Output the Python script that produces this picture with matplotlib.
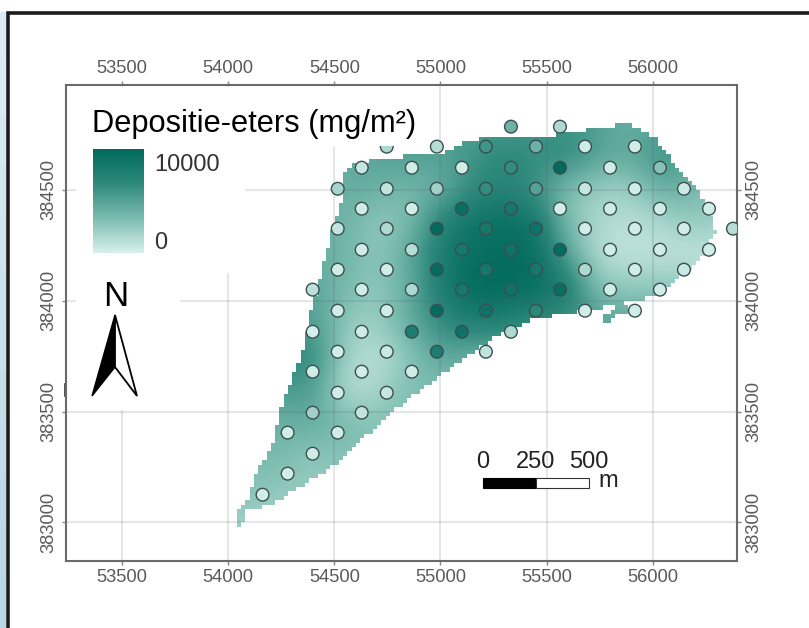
import numpy as np
import matplotlib
matplotlib.use('Agg')
import matplotlib.pyplot as plt
from matplotlib.colors import LinearSegmentedColormap
from matplotlib.patches import Polygon, Rectangle
from matplotlib.path import Path

plt.rcParams['font.family'] = ['Liberation Sans', 'DejaVu Sans']

# sampling points, rows from north to south
station_x = [55332, 55563,
             54747, 54983, 55214, 55450, 55681, 55916,
             54629, 54865, 55101, 55332, 55563, 55799, 56034,
             54516, 54747, 54983, 55214, 55450, 55681, 55916, 56147,
             54629, 54865, 55101, 55332, 55563, 55799, 56034, 56265,
             54516, 54747, 54983, 55214, 55450, 55681, 55916, 56147, 56378,
             54629, 54865, 55101, 55332, 55563, 55799, 56034, 56265,
             54516, 54747, 54983, 55214, 55450, 55681, 55916, 56147,
             54398, 54629, 54865, 55101, 55332, 55563, 55799, 56034,
             54516, 54747, 54983, 55214, 55450, 55681, 55916,
             54398, 54629, 54865, 55101, 55332,
             54516, 54747, 54983, 55214,
             54398, 54629, 54865,
             54516, 54747,
             54398, 54629,
             54280, 54516,
             54398,
             54280,
             54162]
station_y = [384785] * 2 + [384695] * 6 + [384600] * 7 + [384505] * 8 + [384415] * 8 \
    + [384325] * 9 + [384230] * 8 + [384140] * 8 + [384050] * 8 + [383955] * 7 \
    + [383860] * 5 + [383770] * 4 + [383680] * 3 + [383585] * 2 + [383495] * 2 \
    + [383405] * 2 + [383310] + [383220] + [383125]
station_v = [4000, 1500,
             1500, 1200, 6000, 4000, 300, 300,
             600, 200, 200, 6500, 10000, 300, 3000,
             1800, 800, 2000, 6500, 5000, 600, 300, 400,
             300, 200, 9500, 8500, 200, 300, 300, 200,
             800, 1500, 10000, 8500, 9000, 200, 200, 200, 1200,
             300, 1200, 8500, 9000, 9800, 300, 200, 200,
             300, 200, 9800, 8500, 8500, 1500, 200, 500,
             1000, 300, 1500, 8500, 9000, 9500, 300, 300,
             300, 300, 9800, 9000, 7000, 200, 300,
             100, 300, 8000, 9000, 1500,
             200, 500, 8000, 800,
             300, 200, 200,
             300, 600,
             2000, 800,
             200, 300,
             300,
             200,
             200]

# deposition surface read on a 150 m grid
field = [
    [3000, 3000, 3000, 4000, 4500, 5000, 5000, 5000, 5500, 5500, 6000, 5000, 4000, 5000, 5000, 5000],
    [3000, 3000, 3000, 4500, 5000, 5500, 5000, 6000, 7000, 6500, 7000, 5000, 4500, 6500, 4500, 3000],
    [3000, 3000, 3500, 4500, 4000, 3500, 4000, 6500, 7500, 6000, 3000, 2000, 2000, 4500, 3500, 3000],
    [3000, 3500, 4000, 4000, 2500, 3000, 7500, 9000, 9500, 9000, 3000, 1500, 1000, 1500, 2500, 2000],
    [3500, 4000, 4000, 4000, 2500, 4500, 8000, 9500, 9500, 9800, 5000, 1000, 800, 800, 700, 500],
    [4000, 4500, 5000, 3500, 2500, 4000, 8000, 10000, 10000, 9500, 8500, 3000, 2500, 3000, 2500, 1500],
    [5000, 5000, 5500, 2500, 2000, 4500, 6500, 8000, 7500, 6500, 6000, 5000, 5000, 4000, 3000, 2000],
    [6000, 7000, 7000, 2000, 800, 2500, 5000, 4000, 4000, 4000, 4000, 4000, 4000, 3000, 3000, 2000],
    [5000, 5500, 5500, 1000, 1500, 3500, 3000, 3000, 3000, 3000, 3000, 3000, 3000, 3000, 3000, 2000],
    [4000, 4000, 4500, 3500, 3000, 3000, 3000, 3000, 3000, 3000, 3000, 3000, 3000, 3000, 3000, 2000],
    [3500, 3500, 2500, 3000, 3000, 3000, 3000, 3000, 3000, 3000, 3000, 3000, 3000, 3000, 3000, 2000],
    [3000, 2500, 2500, 2500, 2500, 2500, 2500, 2500, 2500, 2500, 2500, 2500, 2500, 2500, 2500, 2000],
    [2000, 2000, 2000, 2000, 2000, 2000, 2000, 2000, 2000, 2000, 2000, 2000, 2000, 2000, 2000, 2000],
]

# outline of the area
area_x = [54040, 54040, 54060, 54092, 54134, 54205, 54243, 54266, 54327, 54351, 54384, 54445, 54492,
          54535, 54544, 54605, 54700, 54775, 54846, 55011, 55068, 55105, 55219, 55596, 55714,
          55846, 55883, 55954, 56011, 56011, 56048, 56081, 56143, 56209, 56232, 56270, 56294,
          56270, 56261, 56209, 56162, 56091, 56058, 56001, 55832, 55704, 55483, 55407, 55365,
          55247, 54987, 54823, 54667, 54502, 54327, 54205, 54134, 54092, 54065]
area_y = [382985, 383044, 383060, 383102, 383224, 383350, 383486, 383567, 383711, 383788, 383928, 384153, 384320,
          384456, 384577, 384622, 384636, 384632, 384659, 384659, 384695, 384717, 384735, 384753, 384776,
          384794, 384794, 384758, 384735, 384695, 384690, 384636, 384559, 384510, 384465, 384379, 384307,
          384275, 384221, 384176, 384140, 384086, 384059, 384018, 383982, 383959, 383923, 383905, 383883,
          383833, 383655, 383540, 383405, 383262, 383150, 383085, 383057, 383071, 382985]
sliver_x = [55751, 55751, 55799, 55818, 55879, 55879, 55832]
sliver_y = [383923, 383905, 383905, 383928, 383950, 383977, 383973]

x_ticks = [53500, 54000, 54500, 55000, 55500, 56000]
y_ticks = [383000, 383500, 384000, 384500]
legend_labels = ['10000', '0']
scale_labels = ['0', '250', '500']

cmap = LinearSegmentedColormap.from_list('dep', ['#d6f0ec', '#7cbcb0', '#2f8a7c', '#006a5d'])

fig = plt.figure(figsize=(8.09, 6.28), dpi=100, facecolor='white')

# page coordinates in pixels, for the frame and the map furniture
page = fig.add_axes([0, 0, 1, 1], zorder=0)
page.axis('off')
strip = np.linspace(0, 1, 12).reshape(-1, 1)
page.imshow(strip, extent=(0, 6, 628, 12), cmap=LinearSegmentedColormap.from_list('s', ['#dcebf3', '#b8d6e7']),
            aspect='auto')
page.plot([8, 8, 809], [628, 12.5, 12.5], color='#1c1c1c', lw=2.6, solid_joinstyle='miter')
page.plot([65, 65], [384, 396], color='#333333', lw=1.2)
page.set_xlim(0, 809)
page.set_ylim(628, 0)

ax = fig.add_axes([66 / 809, 1 - 561 / 628, (737 - 66) / 809, (561 - 85) / 628], zorder=1)
ax.imshow(field, extent=(54025, 56425, 382925, 384875), cmap=cmap, vmin=0, vmax=10000,
          interpolation='bicubic', aspect='auto', zorder=1)

# white out every 20 m cell outside the area, which gives the stepped raster edge
cell_x = np.arange(53200, 56420, 20) + 10
cell_y = np.arange(382800, 385000, 20) + 10
xx, yy = np.meshgrid(cell_x, cell_y)
pts = np.column_stack([xx.ravel(), yy.ravel()])
inside = Path(np.column_stack([area_x, area_y])).contains_points(pts) \
    | Path(np.column_stack([sliver_x, sliver_y])).contains_points(pts)
cover = np.ones(xx.shape + (4,))
cover[..., 3] = ~inside.reshape(xx.shape)
ax.imshow(cover, extent=(53200, 56420, 382800, 385000), origin='lower', interpolation='nearest',
          aspect='auto', zorder=2)

for t in x_ticks:
    ax.axvline(t, color='#5a6470', alpha=0.16, lw=1.5, zorder=3)
for t in y_ticks:
    ax.axhline(t, color='#5a6470', alpha=0.16, lw=1.5, zorder=3)

# the legend panel hid parts of the grid in the original map
for (x0, y0, x1, y1) in [(76, 87, 245, 273), (76, 273, 180, 410), (245, 87, 420, 146)]:
    ax.add_patch(Rectangle((x0, y0), x1 - x0, y1 - y0, transform=page.transData, fc='white', ec='none', zorder=5))

ax.scatter(station_x, station_y, c=station_v, cmap=cmap, vmin=0, vmax=10000, s=84,
           edgecolors='#3c4f50', linewidths=1.0, zorder=4)

ax.set_xlim(53236, 56397)
ax.set_ylim(382826, 384973)
ax.set_xticks(x_ticks)
ax.set_yticks(y_ticks)
ax.tick_params(top=True, right=True, labeltop=True, labelright=True, length=3, width=1, color='#888888',
               labelcolor='#5a5a5a', labelsize=13.2, pad=3)
for lab in ax.get_yticklabels():
    lab.set_rotation(90)
    lab.set_verticalalignment('center')
for spine in ax.spines.values():
    spine.set_color('#6a6a6a')
    spine.set_linewidth(1.5)

# scale bar
ax.add_patch(Rectangle((55200, 383157), 250, 45, fc='black', ec='black', lw=0.8, zorder=6))
ax.add_patch(Rectangle((55450, 383157), 250, 45, fc='white', ec='#333333', lw=0.8, zorder=6))
for pos, lab in zip([55200, 55450, 55700], scale_labels):
    ax.text(pos, 383245, lab, ha='center', va='baseline', fontsize=17, color='#222222', zorder=6)
ax.text(55745, 383160, 'm', ha='left', va='baseline', fontsize=17, color='#222222', zorder=6)

# legend and north arrow, drawn above the map
top = fig.add_axes([0, 0, 1, 1], zorder=2)
top.axis('off')
top.patch.set_alpha(0)
top.text(92, 132, 'Depositie-eters (mg/m²)', fontsize=22.2, color='black', ha='left', va='baseline')
top.imshow(np.linspace(1, 0, 100).reshape(-1, 1), extent=(93, 144, 253, 149), cmap=cmap, vmin=0, vmax=1, aspect='auto')
top.text(154, 171, legend_labels[0], fontsize=17, color='#333333', ha='left', va='baseline')
top.text(154, 249, legend_labels[1], fontsize=17, color='#333333', ha='left', va='baseline')
top.text(115.5, 306, 'N', fontsize=25, color='black', ha='center', va='baseline')
top.add_patch(Polygon([(115, 315), (92, 396), (115, 367)], closed=True, fc='black', ec='black', lw=1))
top.add_patch(Polygon([(115, 315), (137, 396), (115, 367)], closed=True, fc='white', ec='black', lw=1.3))
top.set_xlim(0, 809)
top.set_ylim(628, 0)

fig.savefig('out.png', dpi=100)
